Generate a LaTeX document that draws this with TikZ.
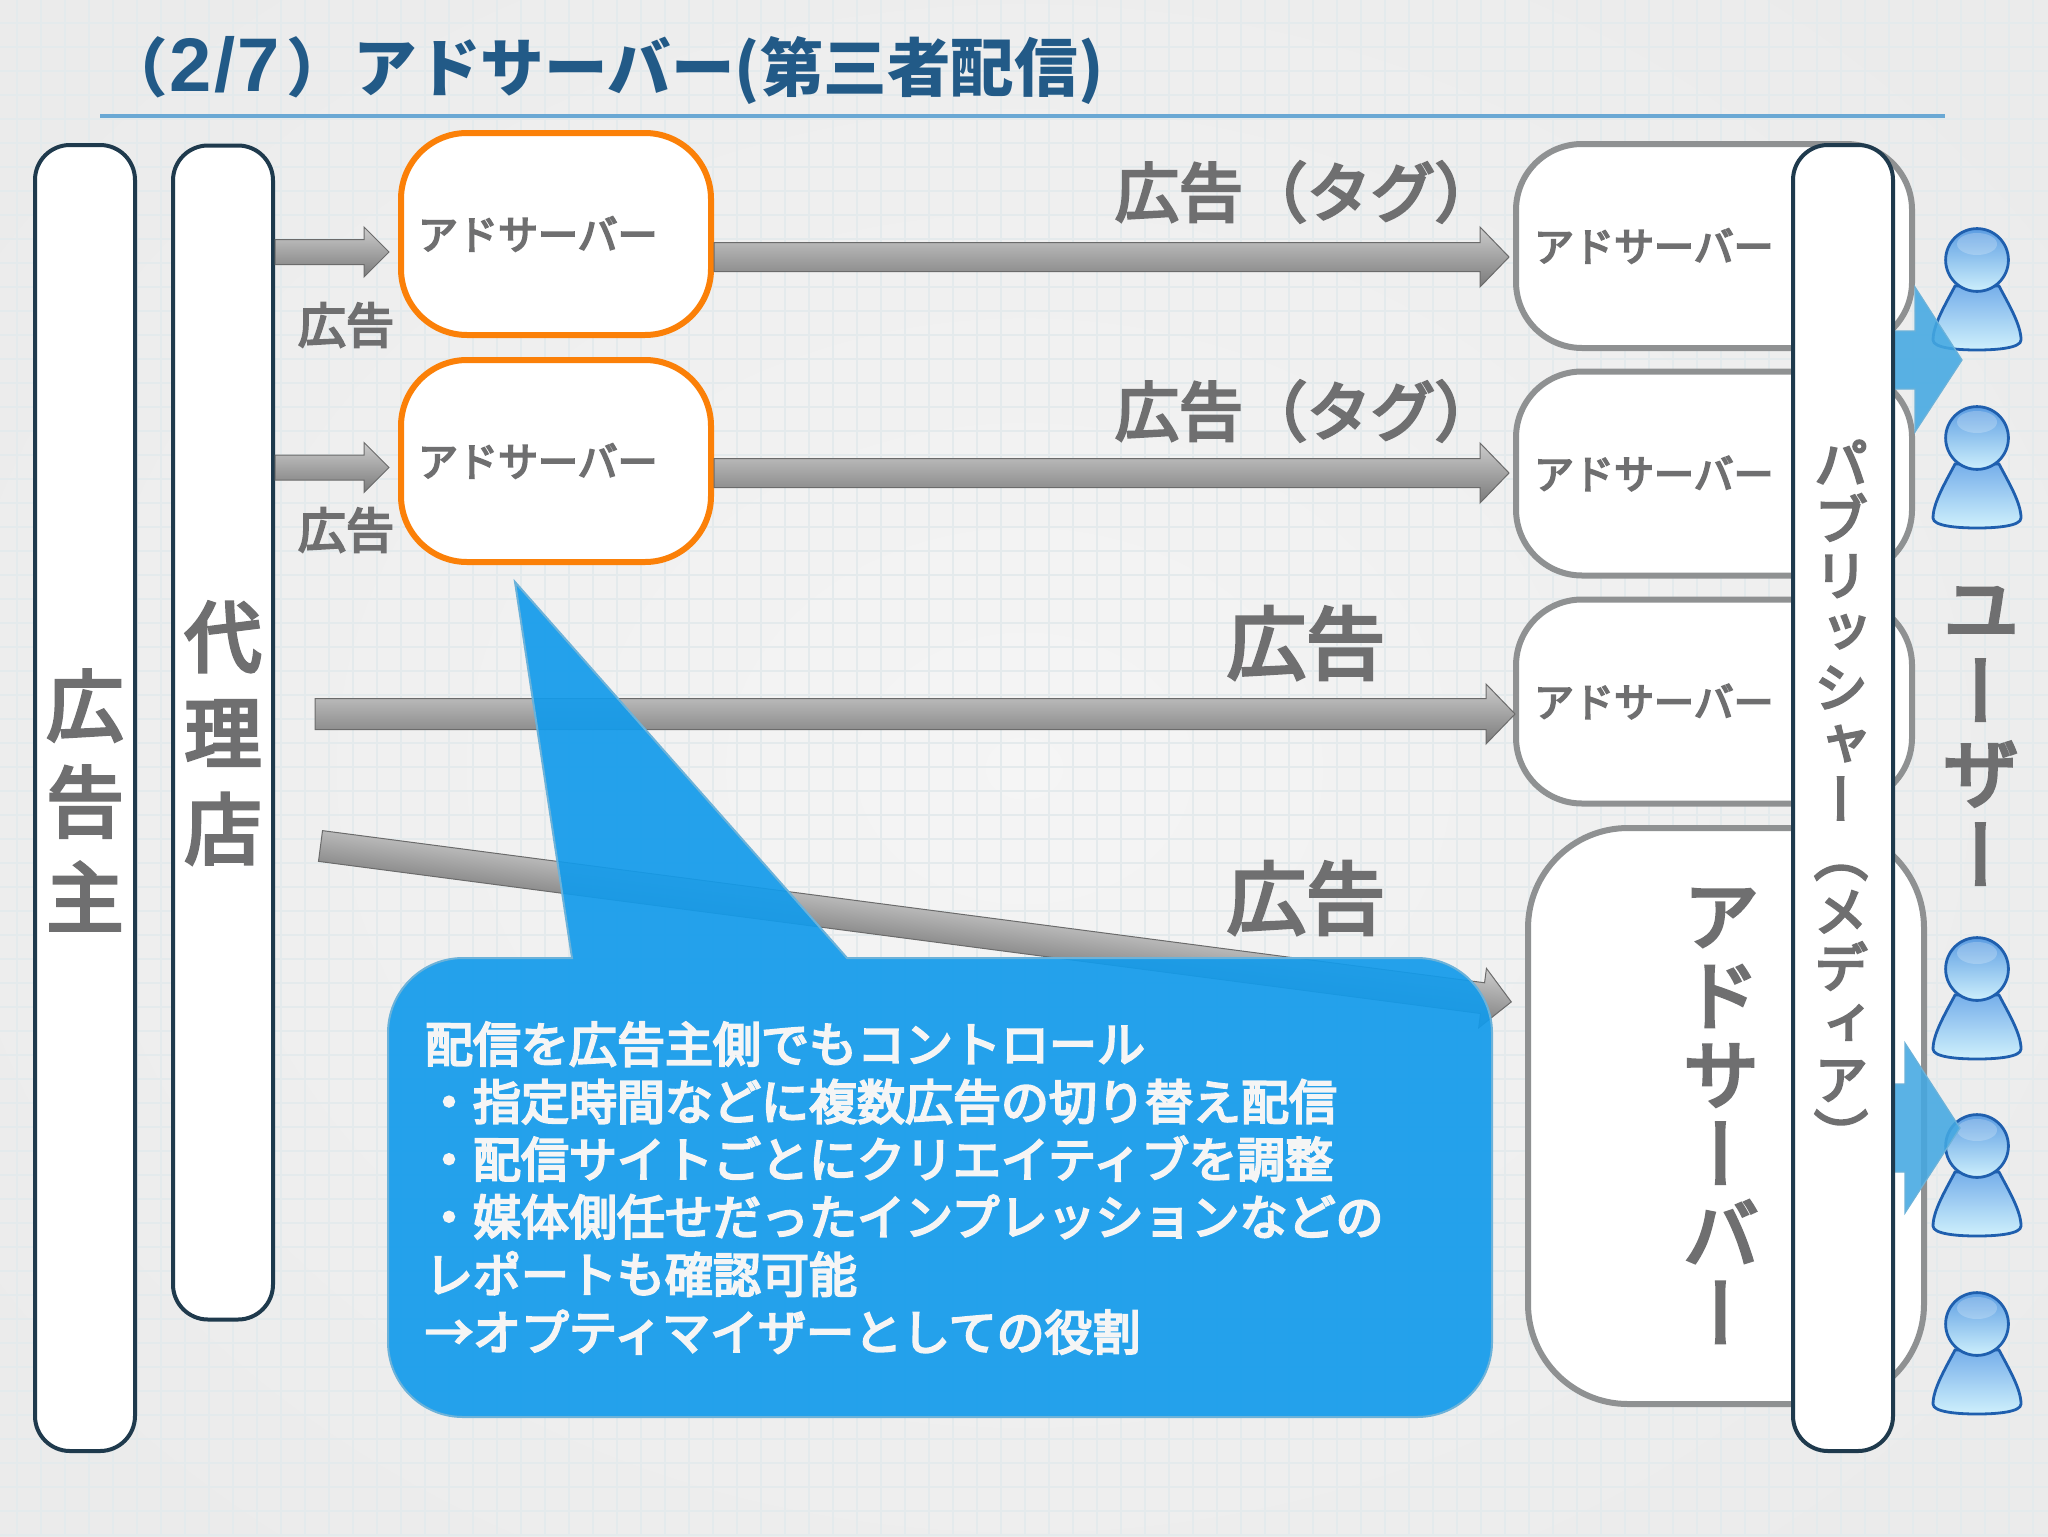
\documentclass[tikz,border=0pt]{standalone}
\usepackage{fontspec}
\usetikzlibrary{calc,shadings}
\setmainfont{Noto Sans CJK JP}
\newfontfamily\jpm[FakeBold=4.5]{Noto Sans CJK JP}
\newfontfamily\vjp[RawFeature=+vert,FakeBold=4.5]{Noto Sans CJK JP}
\newfontfamily\latinbold[BoldFont={Liberation Sans Bold}]{Liberation Sans}
\definecolor{darkline}{HTML}{1F3A4D}
\definecolor{orangeline}{HTML}{FB8008}
\definecolor{grayline}{HTML}{8F9192}
\definecolor{txtgray}{HTML}{6F6F70}
\definecolor{titleblue}{HTML}{225A87}
\definecolor{ruleblue}{HTML}{6AA8D4}
\definecolor{calloutfill}{rgb}{.075,.607,.923}
\definecolor{calloutedge}{HTML}{6CB2D9}
\definecolor{bluearrow}{HTML}{44A8E2}
\definecolor{userline}{HTML}{1F5FAE}
\definecolor{gridline}{HTML}{E4EAEC}
\definecolor{headtop}{HTML}{5C9DE2}
\definecolor{headbot}{HTML}{CDEFFC}
\definecolor{bodytop}{HTML}{76AFEA}
\definecolor{bodybot}{HTML}{CFF0FC}
\tikzset{
  every node/.style={outer sep=0pt},
  darkbox/.style={draw=darkline,line width=2pt,fill=white,rounded corners=17.5pt,minimum width=50pt,inner sep=0pt},
  adorange/.style={draw=orangeline,line width=3pt,fill=white,rounded corners=33pt,minimum width=155pt,minimum height=101pt,inner sep=8.5pt,text width=138pt,align=left,text=txtgray,font=\jpm\fontsize{20}{24}\selectfont},
  adgray/.style={draw=grayline,line width=3pt,fill=white,rounded corners=33pt,minimum width=198pt,minimum height=102pt,inner sep=9pt,text width=180pt,align=left,text=txtgray,font=\jpm\fontsize{20}{24}\selectfont},
  adgraybig/.style={draw=grayline,line width=3pt,fill=white,rounded corners=50pt,minimum width=198pt,minimum height=288pt,inner sep=0pt},
  barrow/.style={draw=black!58,line width=.5pt,top color=black!20,bottom color=black!52},
  vlabel/.style={align=center,inner sep=0pt,text=txtgray},
  smalllabel/.style={inner sep=0pt,text=txtgray,font=\jpm\fontsize{24}{26}\selectfont},
  taglabel/.style={anchor=west,inner sep=0pt,text=txtgray,font=\jpm\fontsize{32}{36}\selectfont},
  biglabel/.style={inner sep=0pt,text=txtgray,font=\jpm\fontsize{39.5}{42}\selectfont},
  bluehead/.style={fill=bluearrow,fill opacity=.88,draw=calloutedge,line width=.6pt},
  usericon/.pic={
    \draw[userline,line width=1.4pt,top color=bodytop,bottom color=bodybot] (-22,26) .. controls (-32,45) and (-44,65) .. (-44,80) .. controls (-44,88) and (-20,90) .. (0,90) .. controls (20,90) and (44,88) .. (44,80) .. controls (44,65) and (32,45) .. (22,26) -- cycle;
    \draw[userline,line width=1.4pt,top color=headtop,bottom color=headbot] (0,0) circle[radius=15.7pt];
    \fill[white,opacity=.22] (0,-16) ellipse[x radius=10pt,y radius=5.5pt];
  }
}
\newcommand\blockarrow[5]{%
  \coordinate (hb) at ($(#2)!#5!(#1)$);
  \draw[barrow] ($(#1)!#3!90:(#2)$) -- ($(hb)!#3!90:(#2)$) -- ($(hb)!#4!90:(#2)$) -- (#2) -- ($(hb)!#4!-90:(#2)$) -- ($(hb)!#3!-90:(#2)$) -- ($(#1)!#3!-90:(#2)$) -- cycle;}
\begin{document}
\begin{tikzpicture}[x=.5pt,y=-.5pt]
\useasboundingbox (0,0) rectangle (2048,1536);
% paper
\shade[inner color=black!4,outer color=black!8] (-300,-300) rectangle (2348,1836);
\foreach \x in {17,41,...,2048} \draw[gridline,line width=.6pt] (\x,0) -- (\x,1536);
\foreach \y in {23,47,...,1536} \draw[gridline,line width=.6pt] (0,\y) -- (2048,\y);
% title
\node[anchor=west,inner sep=0pt,text=titleblue,font=\bfseries\fontsize{31.8}{36}\selectfont] (title) at (104,70) {（\hspace{1pt}{\latinbold\bfseries\fontsize{38}{36}\selectfont 2\hspace{1.2pt}/\hspace{1.2pt}7}\hspace{3pt}）\hspace{2pt}アドサーバー(第三者配信)};
\coordinate (ruleL) at (100,116); \coordinate (ruleR) at (1945,116);
\draw[ruleblue,line width=2pt] (ruleL) -- (ruleR);
% left bars
\node[darkbox,minimum height=653pt] (advertiser) at (85,798) {};
\node[darkbox,minimum height=587pt] (agency) at (223,732.5) {};
% ad servers
\node[adorange] (org1) at (556,234) {アドサーバー};
\node[adorange] (org2) at (556,461) {アドサーバー};
\node[adgray] (gs1) at (1714,246) {アドサーバー};
\node[adgray] (gs2) at (1714,473.5) {アドサーバー};
\node[adgray] (gs3) at (1714,701.5) {アドサーバー};
\node[adgraybig] (gs4) at (1726,1116) {};
% arrows
\coordinate (a1s) at (275,252); \coordinate (a1e) at (389,252);
\coordinate (a2s) at (275,467.5); \coordinate (a2e) at (389,467.5);
\coordinate (l1s) at (714,257); \coordinate (l1e) at (1509,257);
\coordinate (l2s) at (714,473); \coordinate (l2e) at (1509,473);
\coordinate (l3s) at (315,714); \coordinate (l3e) at (1515,714);
\coordinate (l4s) at (320.5,846); \coordinate (l4e) at (1521.5,846);
\blockarrow{a1s}{a1e}{6.25pt}{12.5pt}{12.5pt}
\blockarrow{a2s}{a2e}{6.25pt}{12.5pt}{12.5pt}
\blockarrow{l1s}{l1e}{7.25pt}{15pt}{14.5pt}
\blockarrow{l2s}{l2e}{7.25pt}{15pt}{14.5pt}
\blockarrow{l3s}{l3e}{7.75pt}{15pt}{14.5pt}
\begin{scope}[transform canvas={rotate around={-7.46:(l4s)}}]
\blockarrow{l4s}{l4e}{7.75pt}{15pt}{14.5pt}
\end{scope}
% users
\pic (u1) at (1977,260) {usericon};
\pic (u2) at (1977,438) {usericon};
\pic (u3) at (1977,969) {usericon};
\pic (u4) at (1977,1146) {usericon};
\pic (u5) at (1977,1324) {usericon};
% blue arrows to users
\coordinate (b1s) at (1880,360); \coordinate (b1e) at (1962,360);
\coordinate (b2s) at (1880,1128); \coordinate (b2e) at (1960,1128);
\draw[bluehead] (b1s |- 0,331) -- (1915,331) -- (1915,287) -- (b1e) -- (1915,432) -- (1915,389) -- (b1s |- 0,389) -- cycle;
\draw[bluehead] (b2s |- 0,1084) -- (1905,1084) -- (1905,1043) -- (b2e) -- (1905,1213) -- (1905,1172) -- (b2s |- 0,1172) -- cycle;
% publisher bar
\node[darkbox,minimum height=653pt] (publisher) at (1843,798) {};
% callout
\draw[fill=calloutfill,fill opacity=.92,draw=calloutedge,line width=1pt] (463,958) -- (572,958) -- (515,582) -- (847,958) -- (1417,958) arc[start angle=90,end angle=0,radius=37.5pt] -- (1492,1342) arc[start angle=0,end angle=-90,radius=37.5pt] -- (463,1417) arc[start angle=-90,end angle=-180,radius=37.5pt] -- (388,1033) arc[start angle=180,end angle=90,radius=37.5pt] -- cycle;
\node[anchor=west,align=left,inner sep=0pt,text=black!4,font=\jpm\fontsize{24}{28.8}\selectfont] (callouttext) at (425,1188) {配信を広告主側でもコントロール\\・指定時間などに複数広告の切り替え配信\\・配信サイトごとにクリエイティブを調整\\・媒体側任せだったインプレッションなどの\\レポートも確認可能\\→オプティマイザーとしての役割};
% labels
\node[smalllabel] (lab1) at (346,325) {広告};
\node[smalllabel] (lab2) at (346,530) {広告};
\node[taglabel] (tag1) at (1115,192) {広告（タグ）};
\node[taglabel] (tag2) at (1115,411) {広告（タグ）};
\node[biglabel] (big1) at (1306,643) {広告};
\node[biglabel] (big2) at (1306,898) {広告};
% vertical labels
\node[vlabel,font=\vjp\fontsize{38.5}{48}\selectfont] (vadv) at (85,800) {広\\告\\主};
\node[vlabel,font=\vjp\fontsize{38.5}{48}\selectfont] (vag) at (223,733) {代\\理\\店};
\node[vlabel,font=\vjp\fontsize{38.5}{41}\selectfont] (vuser) at (1981,736) {ユ\\ー\\ザ\\ー};
\node[vlabel,font=\vjp\fontsize{38.5}{39.8}\selectfont] (vserver) at (1721,1116) {ア\\ド\\サ\\ー\\バ\\ー};
\node[vlabel,font=\vjp\fontsize{27}{28}\selectfont] (vpub) at (1841,798) {パ\\ブ\\リ\\ッ\\シ\\ャ\\ー\\（\\メ\\デ\\ィ\\ア\\）};
\end{tikzpicture}
\end{document}
